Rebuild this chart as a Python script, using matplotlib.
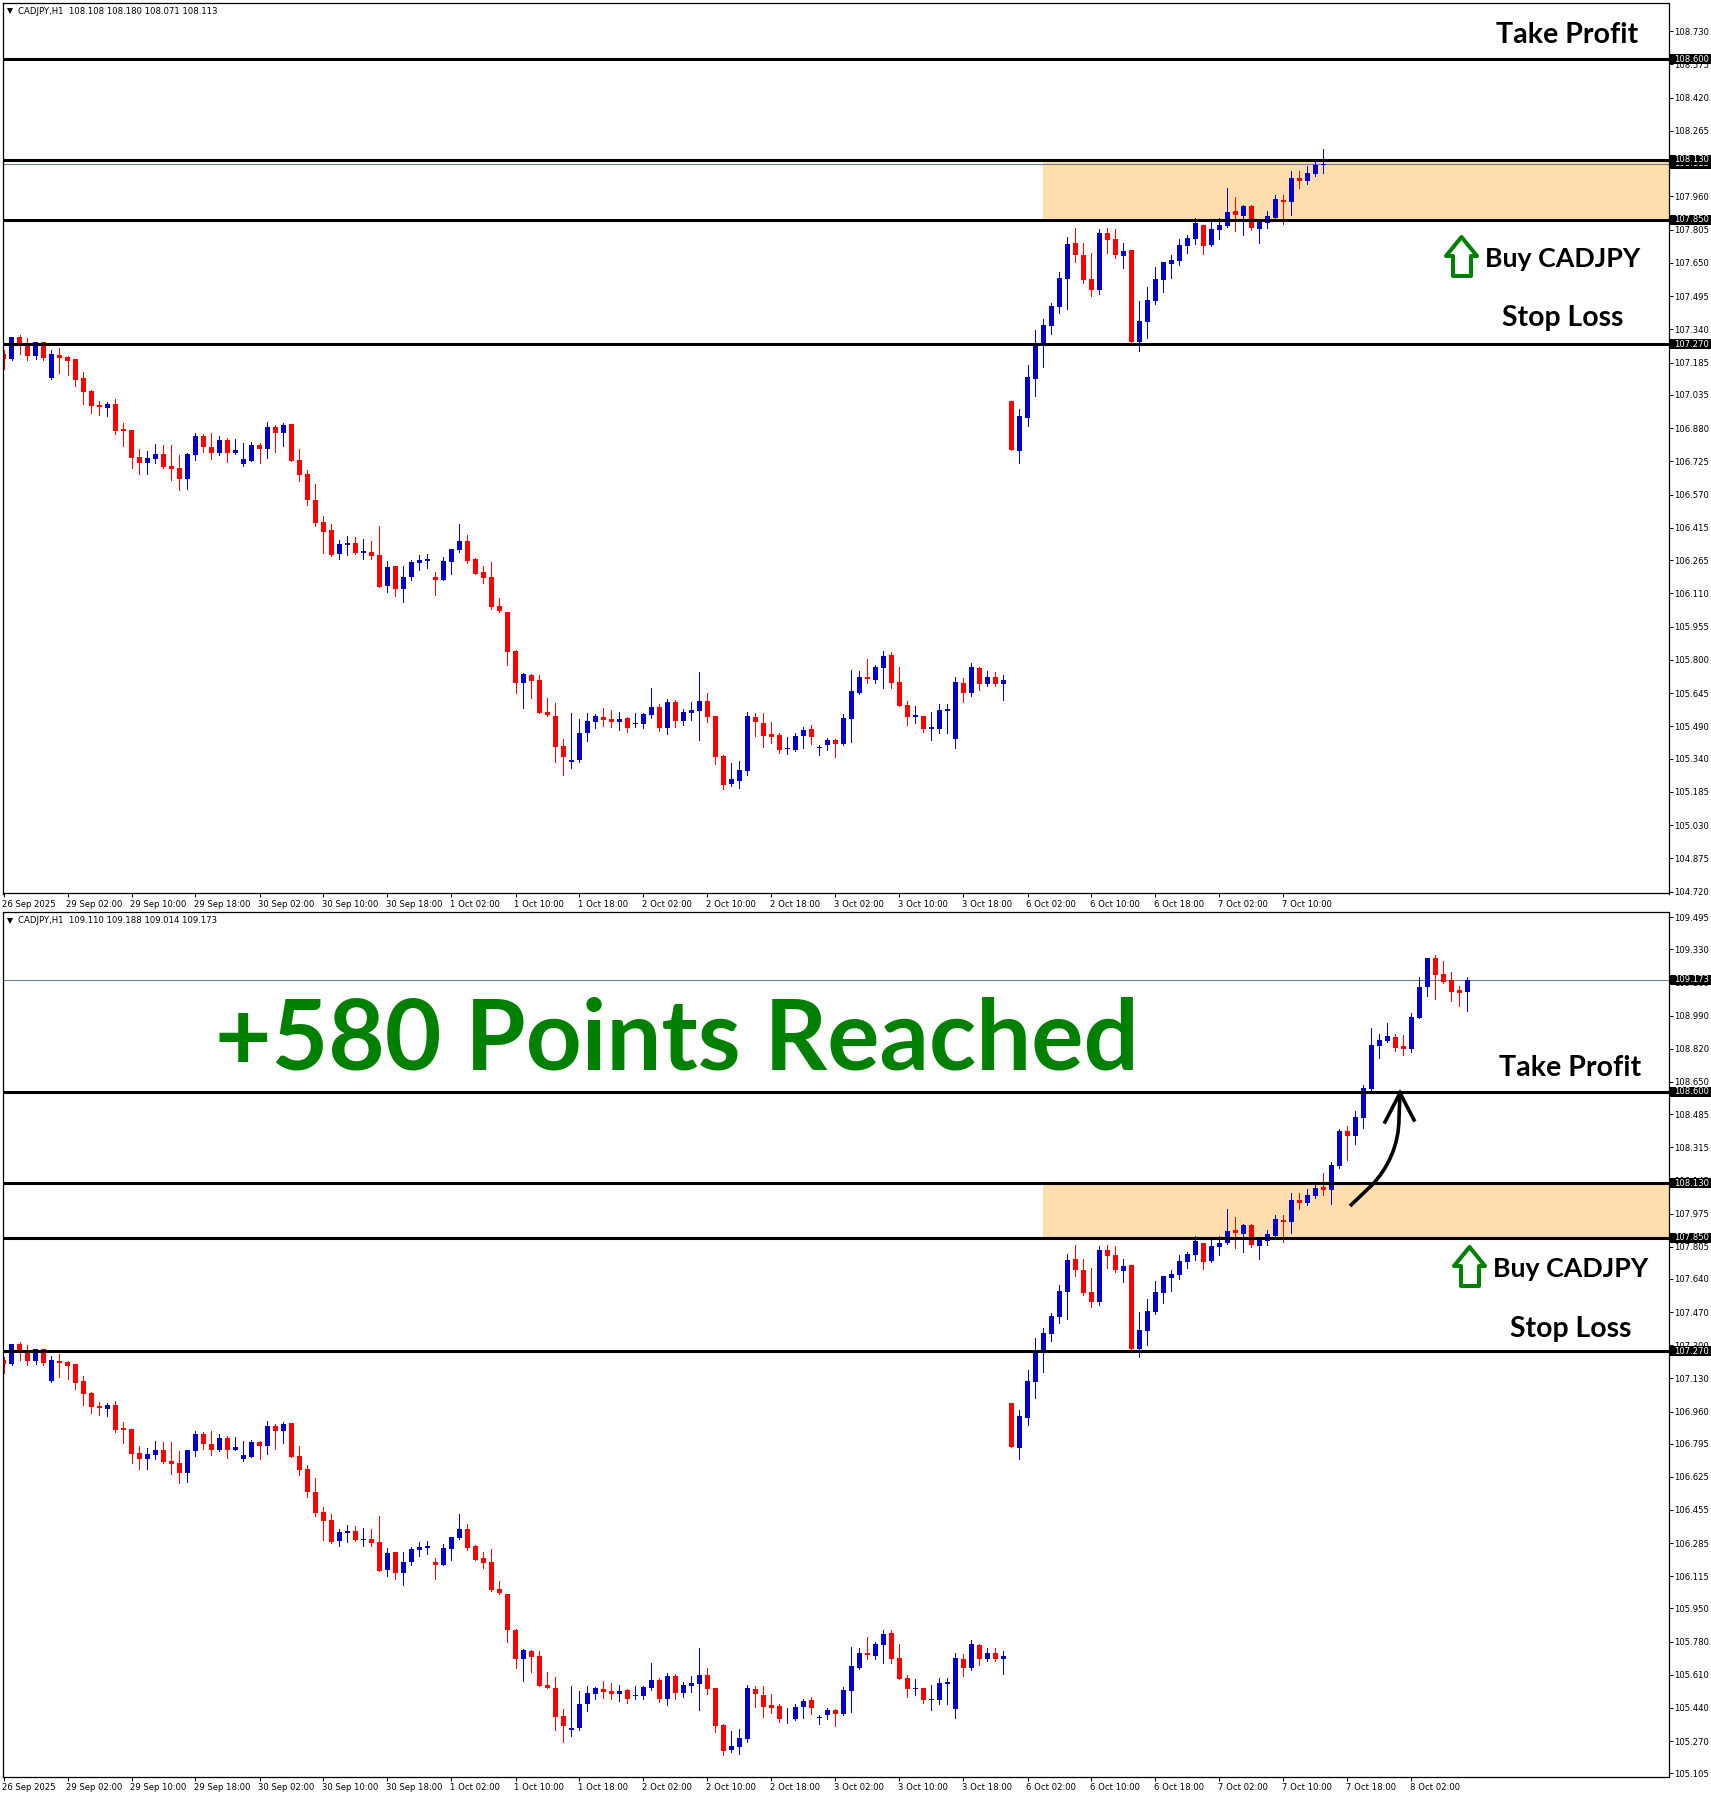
import matplotlib
matplotlib.use("Agg")
import matplotlib.pyplot as plt
import numpy as np
from matplotlib.patches import Polygon, Rectangle, PathPatch
from matplotlib.path import Path
from matplotlib.transforms import ScaledTranslation

opens = [107.226,107.203,107.305,107.277,107.217,107.282,107.114,107.221,107.212,107.203,
107.114,107.054,106.988,106.974,106.993,106.877,106.872,106.746,106.718,106.737,
106.760,106.704,106.695,106.644,106.755,106.844,106.793,106.765,106.825,106.765,
106.714,106.728,106.802,106.783,106.886,106.858,106.900,106.732,106.667,106.546,
106.443,106.406,106.294,106.336,106.345,106.299,106.304,106.290,106.145,106.238,
106.131,106.187,106.252,106.262,106.187,106.173,106.257,106.313,106.355,106.271,
106.210,106.187,106.052,106.024,105.842,105.693,105.731,105.707,105.558,105.540,
105.400,105.325,105.335,105.460,105.512,105.535,105.526,105.512,105.530,105.502,
105.502,105.544,105.581,105.484,105.605,105.516,105.554,105.563,105.609,105.540,
105.353,105.223,105.237,105.283,105.535,105.507,105.456,105.451,105.386,105.381,
105.446,105.479,105.390,105.404,105.428,105.409,105.526,105.647,105.721,105.707,
105.763,105.824,105.698,105.591,105.535,105.540,105.479,105.479,105.563,105.432,
105.693,105.647,105.763,105.689,105.721,105.689,
107.006,106.773,106.927,107.109,107.277,107.356,107.444,107.575,107.743,
107.687,107.575,107.524,107.789,107.761,107.682,107.710,107.281,107.374,107.472,
107.570,107.645,107.659,107.729,107.761,107.826,107.733,107.803,107.822,107.892,
107.868,107.915,107.808,107.836,107.859,107.943,107.934,108.045,108.031,108.064,
108.111,108.096,108.219,108.399,108.373,108.465,108.614,108.835,108.860,108.881,
108.835,108.819,108.978,109.137,109.286,109.204,109.173,109.122,109.110]

highs = [107.242,107.305,107.315,107.301,107.282,107.282,107.245,107.254,107.217,107.203,
107.142,107.058,107.007,107.002,107.016,106.905,106.872,106.783,106.774,106.807,
106.802,106.802,106.755,106.765,106.858,106.853,106.858,106.844,106.835,106.830,
106.811,106.816,106.811,106.909,106.895,106.905,106.900,106.783,106.686,106.620,
106.471,106.434,106.359,106.378,106.373,106.364,106.355,106.425,106.262,106.238,
106.238,106.266,106.290,106.294,106.210,106.280,106.318,106.434,106.383,106.276,
106.238,106.257,106.089,106.024,105.847,105.740,105.735,105.731,105.623,105.600,
105.432,105.554,105.526,105.554,105.549,105.577,105.568,105.558,105.535,105.554,
105.554,105.670,105.595,105.619,105.614,105.572,105.605,105.745,105.647,105.540,
105.358,105.321,105.330,105.558,105.554,105.554,105.512,105.460,105.442,105.460,
105.488,105.498,105.404,105.437,105.432,105.549,105.754,105.749,105.805,105.777,
105.842,105.838,105.768,105.609,105.586,105.540,105.558,105.595,105.595,105.721,
105.717,105.786,105.768,105.749,105.745,105.731,
107.006,106.969,107.174,107.337,107.388,107.463,107.607,107.770,107.812,
107.743,107.696,107.808,107.812,107.808,107.743,107.710,107.472,107.538,107.631,
107.654,107.687,107.761,107.780,107.859,107.826,107.845,107.859,107.999,107.957,
107.920,107.920,107.850,107.892,107.966,107.966,108.078,108.078,108.101,108.120,
108.181,108.241,108.409,108.424,108.501,108.634,108.927,108.896,108.952,108.896,
108.891,109.004,109.188,109.286,109.301,109.270,109.214,109.142,109.188]

lows = [107.156,107.198,107.226,107.198,107.203,107.198,107.110,107.137,107.128,107.077,
106.993,106.951,106.942,106.937,106.853,106.797,106.695,106.667,106.667,106.718,
106.695,106.639,106.592,106.597,106.732,106.769,106.737,106.755,106.723,106.760,
106.704,106.728,106.718,106.741,106.769,106.797,106.728,106.634,106.522,106.425,
106.299,106.285,106.271,106.290,106.294,106.271,106.271,106.140,106.117,106.099,
106.071,106.173,106.220,106.229,106.103,106.173,106.201,106.304,106.252,106.201,
106.159,106.038,106.024,105.777,105.647,105.577,105.623,105.554,105.540,105.325,
105.265,105.297,105.325,105.423,105.484,105.493,105.488,105.474,105.465,105.488,
105.484,105.530,105.470,105.456,105.488,105.498,105.521,105.428,105.512,105.316,
105.199,105.213,105.204,105.265,105.446,105.395,105.414,105.367,105.363,105.376,
105.390,105.409,105.358,105.381,105.349,105.404,105.418,105.642,105.693,105.693,
105.670,105.670,105.586,105.498,105.507,105.465,105.428,105.460,105.460,105.390,
105.605,105.633,105.661,105.679,105.679,105.614,
106.778,106.718,106.890,107.030,107.165,107.319,107.416,107.435,107.654,
107.556,107.496,107.505,107.696,107.673,107.626,107.277,107.239,107.300,107.458,
107.514,107.579,107.640,107.696,107.738,107.691,107.729,107.761,107.817,107.798,
107.780,107.803,107.743,107.812,107.850,107.831,107.873,107.999,108.017,108.055,
108.070,108.024,108.209,108.250,108.332,108.414,108.609,108.773,108.855,108.809,
108.788,108.804,108.978,109.091,109.076,109.158,109.065,109.040,109.014]

closes = [107.203,107.305,107.277,107.217,107.282,107.207,107.226,107.207,107.193,107.105,
107.049,106.984,106.979,106.993,106.867,106.867,106.741,106.718,106.741,106.760,
106.700,106.690,106.644,106.760,106.844,106.793,106.765,106.825,106.765,106.779,
106.737,106.802,106.783,106.886,106.858,106.895,106.728,106.662,106.546,106.439,
106.397,106.290,106.341,106.345,106.299,106.308,106.285,106.140,106.234,106.131,
106.187,106.257,106.266,106.271,106.173,106.262,106.318,106.355,106.262,106.201,
106.182,106.047,106.029,105.838,105.693,105.735,105.703,105.554,105.544,105.395,
105.349,105.335,105.460,105.516,105.540,105.521,105.512,105.526,105.484,105.507,
105.549,105.581,105.484,105.605,105.516,105.558,105.568,105.609,105.535,105.349,
105.218,105.246,105.288,105.540,105.512,105.446,105.442,105.381,105.390,105.446,
105.474,105.442,105.395,105.428,105.409,105.530,105.656,105.721,105.712,105.768,
105.819,105.693,105.586,105.535,105.544,105.479,105.488,105.568,105.572,105.698,
105.647,105.768,105.689,105.721,105.689,105.707,
106.778,106.937,107.118,107.267,107.360,107.449,107.579,107.738,107.687,
107.570,107.524,107.789,107.757,107.687,107.705,107.281,107.379,107.477,107.575,
107.654,107.663,107.733,107.766,107.836,107.729,107.808,107.826,107.887,107.873,
107.915,107.812,107.845,107.868,107.948,107.934,108.045,108.031,108.069,108.106,
108.096,108.224,108.399,108.373,108.470,108.619,108.840,108.865,108.886,108.824,
108.819,108.983,109.137,109.286,109.199,109.163,109.111,109.106,109.173]

# Forming bar as it stood when the upper snapshot was taken
top_last_bar = (108.108, 108.180, 108.071, 108.113)
top_bar_count = 166

levels = [108.600, 108.130, 107.850, 107.270]
zone_low, zone_high = 107.850, 108.130
zone_start_bar = 129.9

date_labels = ["26 Sep 2025", "29 Sep 02:00", "29 Sep 10:00", "29 Sep 18:00", "30 Sep 02:00",
               "30 Sep 10:00", "30 Sep 18:00", "1 Oct 02:00", "1 Oct 10:00", "1 Oct 18:00",
               "2 Oct 02:00", "2 Oct 10:00", "2 Oct 18:00", "3 Oct 02:00", "3 Oct 10:00",
               "3 Oct 18:00", "6 Oct 02:00", "6 Oct 10:00", "6 Oct 18:00", "7 Oct 02:00",
               "7 Oct 10:00", "7 Oct 18:00", "8 Oct 02:00"]
top_date_count = 21

top_price_ticks = [108.730, 108.575, 108.420, 108.265, 108.115, 107.960, 107.805, 107.650, 107.495,
                   107.340, 107.185, 107.035, 106.880, 106.725, 106.570, 106.415, 106.265, 106.110,
                   105.955, 105.800, 105.645, 105.490, 105.340, 105.185, 105.030, 104.875, 104.720]
bottom_price_ticks = [109.495, 109.330, 109.160, 108.990, 108.820, 108.650, 108.485, 108.315, 108.145,
                      107.975, 107.805, 107.640, 107.470, 107.300, 107.130, 106.960, 106.795, 106.625,
                      106.455, 106.285, 106.115, 105.950, 105.780, 105.610, 105.440, 105.270, 105.105]

W, H = 1711, 1795
BLUE, RED, GREEN = "#0000CD", "#FF0000", "#008000"
UI_FONT = ["DejaVu Sans"]
NOTE_FONT = ["Lato", "DejaVu Sans"]
UI_SIZE = 6.1

fig = plt.figure(figsize=(W / 100, H / 100), dpi=100, facecolor="white")


def make_panel(px_top, px_bottom, ref_price, ref_px, px_per_unit):
    ax = fig.add_axes([2.5 / W, 1 - px_bottom / H, 1666 / W, (px_bottom - px_top) / H])
    ax.set_xlim(-1 / 8, 1665 / 8)
    ax.set_ylim(ref_price - (px_bottom - ref_px) / px_per_unit,
                ref_price + (ref_px - px_top) / px_per_unit)
    for s in ax.spines.values():
        s.set_linewidth(0.9)
    return ax


def draw_panel(ax, o, h, l, c, dates, yticks, last_price, px_per_unit, header):
    o, h, l, c = map(np.asarray, (o, h, l, c))
    x = np.arange(len(o))
    colors = np.where(c >= o, BLUE, RED)
    ax.add_patch(Rectangle((zone_start_bar, zone_low), 300, zone_high - zone_low,
                           facecolor="#FFDEAD", edgecolor="none", zorder=1))
    ax.axhline(last_price, color="#708090", lw=0.8, zorder=1.5)
    ax.vlines(x, l, h, colors=colors, lw=0.68, antialiased=False, zorder=2)
    ax.bar(x, np.abs(c - o).clip(0.004), bottom=np.minimum(o, c), width=5 / 8, color=colors,
           linewidth=0, antialiased=False, zorder=2.1)
    for lev in levels:
        ax.axhline(lev, color="black", lw=2.2, zorder=3)

    ax.yaxis.tick_right()
    ax.set_yticks(yticks)
    ax.set_yticklabels([f"{v:.3f}" for v in yticks], fontsize=UI_SIZE, family=UI_FONT)
    ax.tick_params(axis="y", length=2.9, width=0.7, pad=1)
    ax.set_xticks(np.arange(len(dates)) * 8)
    ax.set_xticklabels(dates, fontsize=UI_SIZE, family=UI_FONT, ha="left")
    ax.tick_params(axis="x", length=2.9, width=0.7, pad=2)
    nudge = ScaledTranslation(-1.5 / 100, 0, fig.dpi_scale_trans)
    for lab in ax.get_xticklabels():
        lab.set_transform(lab.get_transform() + nudge)

    tag_h = 10 / px_per_unit
    trans = ax.get_yaxis_transform()
    # current-price tag goes first so that the level tags sit on top of it
    for k, p in enumerate([last_price] + levels):
        ax.add_patch(Rectangle((1.0012, p - tag_h / 2), 0.026, tag_h, transform=trans,
                               facecolor="black", edgecolor="none", clip_on=False, zorder=5 + 2 * k))
        ax.text(1.0036, p, f"{p:.3f}", transform=trans, color="white", fontsize=UI_SIZE,
                family=UI_FONT, va="center", ha="left", clip_on=False, zorder=6 + 2 * k)

    hy = 1 - 8.5 / (ax.get_position().height * H)
    ax.text(15.5 / 1666, hy, header, transform=ax.transAxes, fontsize=UI_SIZE, family=UI_FONT,
            va="center", ha="left", zorder=6)
    ax.plot([7.5 / 1666], [hy], marker="v", ms=4.4, color="black", mew=0,
            transform=ax.transAxes, zorder=6)


ax_top = make_panel(2.5, 893.5, 107.85, 220.0, 214.6)
ax_bot = make_panel(912.3, 1776.5, 108.60, 1091.7, 195.0)

top_o = opens[:top_bar_count]
top_h = highs[:top_bar_count]
top_l = lows[:top_bar_count]
top_c = closes[:top_bar_count]
top_o[-1], top_h[-1], top_l[-1], top_c[-1] = top_last_bar

draw_panel(ax_top, top_o, top_h, top_l, top_c, date_labels[:top_date_count], top_price_ticks,
           top_last_bar[3], 214.6, "CADJPY,H1  108.108 108.180 108.071 108.113")
draw_panel(ax_bot, opens, highs, lows, closes, date_labels, bottom_price_ticks,
           closes[-1], 195.0, "CADJPY,H1  109.110 109.188 109.014 109.173")

# Hand-drawn annotations, placed in picture pixels on a transparent overlay
ov = fig.add_axes([0, 0, 1, 1], zorder=10)
ov.set_xlim(0, W)
ov.set_ylim(H, 0)
ov.axis("off")


def note(x, y, s, size, color="black"):
    ov.text(x, y, s, fontsize=size, family=NOTE_FONT, weight="bold", color=color,
            ha="left", va="baseline")


def up_arrow(dx, dy):
    pts = np.array([(1461.5, 237), (1477, 256), (1471, 256), (1471, 276), (1453, 276),
                    (1453, 256), (1446, 256)], float) + (dx, dy)
    ov.add_patch(Polygon(pts, closed=True, facecolor="white", edgecolor=GREEN, lw=2.9, joinstyle="round"))


note(1496, 43, "Take Profit", 20.6)
note(1485, 267, "Buy CADJPY", 19.3)
note(1502, 326, "Stop Loss", 20.4)
up_arrow(0, 0)

note(1499, 1076, "Take Profit", 20.6)
note(1493, 1277, "Buy CADJPY", 19.3)
note(1510, 1337, "Stop Loss", 20.4)
up_arrow(8, 1010)

note(215, 1069, "+580 Points Reached", 70.3, GREEN)

curve = Path([(1350, 1206), (1372, 1185), (1388, 1168), (1399, 1145), (1399, 1118), (1400, 1093)],
             [Path.MOVETO, Path.LINETO, Path.CURVE4, Path.CURVE4, Path.CURVE4, Path.LINETO])
ov.add_patch(PathPatch(curve, facecolor="none", edgecolor="black", lw=2.6))
ov.plot([1385, 1400, 1414], [1122, 1093, 1120], color="black", lw=2.6, solid_joinstyle="miter")

fig.savefig("out.png", dpi=100)
